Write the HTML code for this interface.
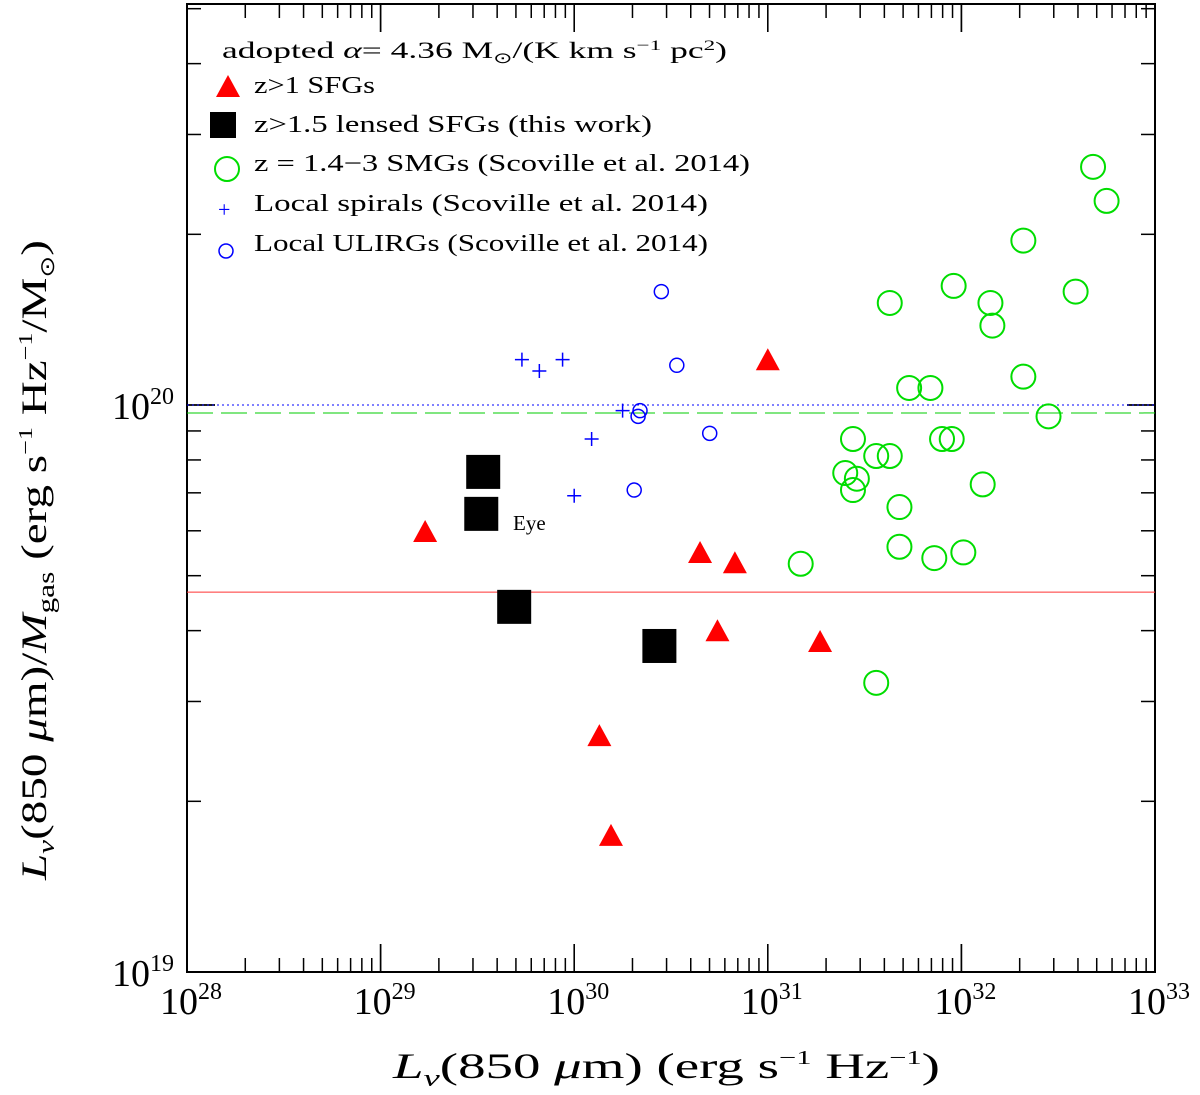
<!DOCTYPE html>
<html><head><meta charset="utf-8"><style>
body{margin:0;background:#fff}
svg{display:block}
text{font-family:"Liberation Serif",serif;fill:#000}
</style></head><body>
<svg id="chart" width="1200" height="1095" viewBox="0 0 1200 1095" xmlns="http://www.w3.org/2000/svg">
<g id="grid"></g>
<g id="marks"></g>
<g id="legend">
<text x="222" y="58" font-size="23" textLength="505" lengthAdjust="spacingAndGlyphs">adopted <tspan font-style="italic">α</tspan>= 4.36 M<tspan font-size="15" dy="5">⊙</tspan><tspan dy="-5">/(K km s</tspan><tspan font-size="15" dy="-8">−1</tspan><tspan dy="8"> pc</tspan><tspan font-size="15" dy="-8">2</tspan><tspan dy="8">)</tspan></text>
<polygon points="228,75 216,97 240,97" fill="#f00"/>
<text x="254" y="93" font-size="24" textLength="121" lengthAdjust="spacingAndGlyphs">z&gt;1 SFGs</text>
<rect x="210" y="112" width="26" height="26" fill="#000"/>
<text x="254" y="132" font-size="24" textLength="398" lengthAdjust="spacingAndGlyphs">z&gt;1.5 lensed SFGs (this work)</text>
<circle cx="227" cy="169" r="12" fill="none" stroke="#0d0" stroke-width="2"/>
<text x="254" y="171" font-size="24" textLength="496" lengthAdjust="spacingAndGlyphs">z = 1.4−3 SMGs (Scoville et al. 2014)</text>
<text x="218" y="217" font-size="22" style="fill:#00f">+</text>
<text x="254" y="211" font-size="24" textLength="454" lengthAdjust="spacingAndGlyphs">Local spirals (Scoville et al. 2014)</text>
<circle cx="226" cy="251" r="7" fill="none" stroke="#00f" stroke-width="1.5"/>
<text x="254" y="251" font-size="24" textLength="454" lengthAdjust="spacingAndGlyphs">Local ULIRGs (Scoville et al. 2014)</text>
</g>
<text x="513" y="530" font-size="21">Eye</text>
<text x="393" y="1078" font-size="36" textLength="547" lengthAdjust="spacingAndGlyphs"><tspan font-style="italic">L</tspan><tspan font-style="italic" font-size="24" dy="8">ν</tspan><tspan dy="-8">(850 </tspan><tspan font-style="italic">μ</tspan>m)  (erg s<tspan font-size="20" dy="-14">−1</tspan><tspan dy="14"> Hz</tspan><tspan font-size="20" dy="-14">−1</tspan><tspan dy="14">)</tspan></text>
<text transform="translate(46,880) rotate(-90)" font-size="36" textLength="640" lengthAdjust="spacingAndGlyphs"><tspan font-style="italic">L</tspan><tspan font-style="italic" font-size="24" dy="8">ν</tspan><tspan dy="-8">(850 </tspan><tspan font-style="italic">μ</tspan>m)/<tspan font-style="italic">M</tspan><tspan font-size="24" dy="8">gas</tspan><tspan dy="-8">  (erg s</tspan><tspan font-size="20" dy="-14">−1</tspan><tspan dy="14"> Hz</tspan><tspan font-size="20" dy="-14">−1</tspan><tspan dy="14">/M</tspan><tspan font-size="20" dy="8">⊙</tspan><tspan dy="-8">)</tspan></text>
</svg>
<script>
const xTickExps=[28,29,30,31,32,33];
const yTickExps=[19,20];
const triX=[29.23,30.65,30.83,31.00,30.74,31.27,30.13,30.19];
const triY=[19.776,19.739,19.721,20.079,19.601,19.582,19.416,19.240];
const sqX=[29.53,29.52,29.69,30.44];
const sqY=[19.882,19.808,19.644,19.575];
const smgX=[32.68,32.75,32.32,31.96,32.59,31.63,32.15,32.16,31.73,31.84,32.32,32.45,31.44,31.56,31.63,31.90,31.95,31.40,31.46,31.44,31.68,32.11,31.68,32.01,31.86,31.17,31.56];
const smgY=[20.42,20.36,20.29,20.21,20.20,20.18,20.18,20.14,20.03,20.03,20.05,19.98,19.94,19.91,19.91,19.94,19.94,19.88,19.87,19.85,19.82,19.86,19.75,19.74,19.73,19.72,19.51];
const spX=[29.73,29.82,29.94,30.25,30.09,30.00];
const spY=[20.08,20.06,20.08,19.99,19.94,19.84];
const ulX=[30.45,30.53,30.34,30.33,30.70,30.31];
const ulY=[20.20,20.07,19.99,19.98,19.95,19.85];
const refLines=[20.0,19.986,19.67];

const L=187,R=1155,T=4,B=972;
const X=v=>L+(v-28)*(R-L)/5;
const Y=v=>B-(v-19)*567;
const NS="http://www.w3.org/2000/svg";
function mk(tag,attrs,parent){const e=document.createElementNS(NS,tag);for(const k in attrs)e.setAttribute(k,attrs[k]);parent.appendChild(e);return e;}
const g=document.getElementById('grid'),m=document.getElementById('marks');
let fr=mk('rect',{x:L,y:T,width:R-L,height:B-T,fill:'none',stroke:'#000','stroke-width':2},g);


for(let d=28;d<33;d++)for(let k=1;k<=10;k++){const lv=d+Math.log10(k);const x=X(lv);const len=(k===1||k===10)?28:14;
 mk('line',{x1:x,x2:x,y1:B,y2:B-len,stroke:'#000','stroke-width':1.5},g);mk('line',{x1:x,x2:x,y1:T,y2:T+len,stroke:'#000','stroke-width':1.5},g);}
for(let d=19;d<=20;d++)for(let k=1;k<=10;k++){const lv=d+Math.log10(k);if(lv>20.72)continue;const y=Y(lv);const len=(k===1||k===10)?28:14;
 mk('line',{x1:L,x2:L+len,y1:y,y2:y,stroke:'#000','stroke-width':1.5},g);mk('line',{x1:R,x2:R-len,y1:y,y2:y,stroke:'#000','stroke-width':1.5},g);}
xTickExps.forEach(e=>{const t=mk('text',{x:X(e)+4,y:1014,'font-size':38,'text-anchor':'middle'},g);t.innerHTML='10<tspan font-size="24" dy="-15">'+e+'</tspan>';
 
 });
yTickExps.forEach(e=>{const t=mk('text',{x:174,y:Y(e)+14,'font-size':38,'text-anchor':'end'},g);t.innerHTML='10<tspan font-size="24" dy="-15">'+e+'</tspan>';
 
 });
const rl1=mk('line',{x1:L,x2:R,y1:Y(refLines[0]),y2:Y(refLines[0]),stroke:'#00f','stroke-width':1,'stroke-dasharray':'2,3'},m);


const rl2=mk('line',{x1:L,x2:R,y1:Y(refLines[1]),y2:Y(refLines[1]),stroke:'#0c0','stroke-width':1,'stroke-dasharray':'26,8'},m);


const rl3=mk('line',{x1:L,x2:R,y1:Y(refLines[2]),y2:Y(refLines[2]),stroke:'#f33','stroke-width':1},m);


smgX.forEach((v,i)=>{const e=mk('circle',{cx:X(v),cy:Y(smgY[i]),r:12,fill:'none',stroke:'#0d0','stroke-width':2},m);
 
 });
spX.forEach((v,i)=>{const x=X(v),y=Y(spY[i]);const e=mk('path',{d:`M${x-7},${y}H${x+7}M${x},${y-7}V${y+7}`,stroke:'#00f','stroke-width':1.5},m);
 
 });
ulX.forEach((v,i)=>{const e=mk('circle',{cx:X(v),cy:Y(ulY[i]),r:7,fill:'none',stroke:'#00f','stroke-width':1.5},m);
 
 });
triX.forEach((v,i)=>{const x=X(v),y=Y(triY[i]);const e=mk('polygon',{points:`${x},${y-12} ${x-12},${y+10} ${x+12},${y+10}`,fill:'#f00'},m);
 
 });
sqX.forEach((v,i)=>{const x=X(v),y=Y(sqY[i]);const e=mk('rect',{x:x-17,y:y-17,width:34,height:34,fill:'#000'},m);
 
 });
</script>
</body></html>
